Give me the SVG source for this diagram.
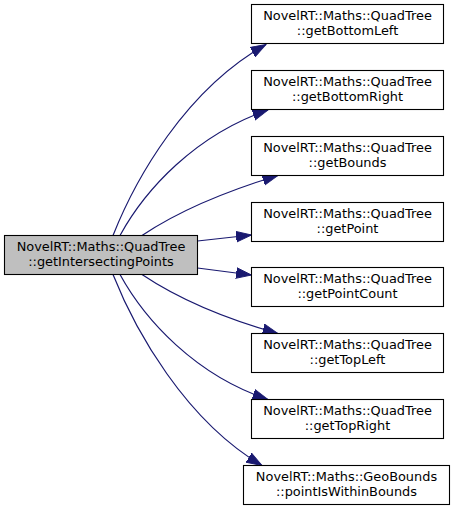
<svg xmlns="http://www.w3.org/2000/svg" width="456" height="509" viewBox="0 0 456 509">
<defs>
<style>
.node rect{stroke:#000;stroke-width:1.1}
.node text{font-family:"DejaVu Sans",sans-serif;font-size:12.9px;fill:#000;text-anchor:middle}
.edge path{fill:none;stroke:#191970;stroke-width:1.2}
</style>
<marker id="ah" markerUnits="userSpaceOnUse" markerWidth="16" markerHeight="12" viewBox="0 0 14 10" refX="13.5" refY="5" orient="auto">
<path d="M0,0.3 L13.5,5 L0,9.7 z" fill="#191970" stroke="#191970" stroke-width="0.8"/>
</marker>
</defs>
<rect width="456" height="509" fill="#fff"/>
<g id="edges" class="edge">
<path marker-end="url(#ah)" d="M113,235.5 C135,180 185,90 266,44.5"/>
<path marker-end="url(#ah)" d="M120,235.5 C145,190 195,135 268,110"/>
<path marker-end="url(#ah)" d="M142,235.5 C180,210 230,190 278,175.5"/>
<path marker-end="url(#ah)" d="M197.5,241 L251.5,235"/>
<path marker-end="url(#ah)" d="M197.5,268 L251.5,275"/>
<path marker-end="url(#ah)" d="M142,274.5 C180,300 230,320 278,333.5"/>
<path marker-end="url(#ah)" d="M120,274.5 C145,320 195,375 268,399.5"/>
<path marker-end="url(#ah)" d="M113,274.5 C135,330 185,420 262,465.5"/>
</g>
<g id="node_main" class="node">
<rect x="4.5" y="235.5" width="193" height="39" fill="#bfbfbf"/>
<text x="101" y="250.5">NovelRT::Maths::QuadTree</text>
<text x="101" y="265.5">::getIntersectingPoints</text>
</g>
<g id="node_getBottomLeft" class="node">
<rect x="251.5" y="4.5" width="192" height="39" fill="#fff"/>
<text x="347.5" y="19.5">NovelRT::Maths::QuadTree</text>
<text x="347.5" y="34.5">::getBottomLeft</text>
</g>
<g id="node_getBottomRight" class="node">
<rect x="251.5" y="70.5" width="192" height="39" fill="#fff"/>
<text x="347.5" y="85.5">NovelRT::Maths::QuadTree</text>
<text x="347.5" y="100.5">::getBottomRight</text>
</g>
<g id="node_getBounds" class="node">
<rect x="251.5" y="136.5" width="192" height="39" fill="#fff"/>
<text x="347.5" y="151.5">NovelRT::Maths::QuadTree</text>
<text x="347.5" y="166.5">::getBounds</text>
</g>
<g id="node_getPoint" class="node">
<rect x="251.5" y="202.5" width="192" height="39" fill="#fff"/>
<text x="347.5" y="217.5">NovelRT::Maths::QuadTree</text>
<text x="347.5" y="232.5">::getPoint</text>
</g>
<g id="node_getPointCount" class="node">
<rect x="251.5" y="267.5" width="192" height="39" fill="#fff"/>
<text x="347.5" y="282.5">NovelRT::Maths::QuadTree</text>
<text x="347.5" y="297.5">::getPointCount</text>
</g>
<g id="node_getTopLeft" class="node">
<rect x="251.5" y="333.5" width="192" height="39" fill="#fff"/>
<text x="347.5" y="348.5">NovelRT::Maths::QuadTree</text>
<text x="347.5" y="363.5">::getTopLeft</text>
</g>
<g id="node_getTopRight" class="node">
<rect x="251.5" y="399.5" width="192" height="39" fill="#fff"/>
<text x="347.5" y="414.5">NovelRT::Maths::QuadTree</text>
<text x="347.5" y="429.5">::getTopRight</text>
</g>
<g id="node_pointIsWithinBounds" class="node">
<rect x="243.5" y="465.5" width="206" height="39" fill="#fff"/>
<text x="346.5" y="480.5">NovelRT::Maths::GeoBounds</text>
<text x="346.5" y="495.5">::pointIsWithinBounds</text>
</g>
</svg>
